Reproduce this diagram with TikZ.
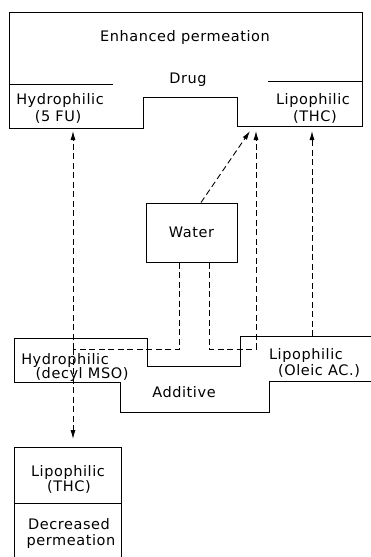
\documentclass[tikz,border=0pt]{standalone}
\usepackage{fontspec}
\setmainfont{DejaVu Sans}[LetterSpace=4]
\usepackage{tikz}
\usetikzlibrary{arrows.meta}

\begin{document}
\begin{tikzpicture}[x=1pt,y=-1pt,
	  frame/.style={line width=1pt},
	  flow/.style={line width=0.9pt,dash pattern=on 6pt off 3.5pt},
	  flowarrow/.style={flow,-{Latex[length=9pt,width=5pt]}},
	  lbl/.style={font=\fontsize{14.5}{16}\selectfont,inner sep=0pt,anchor=base}]

	  \useasboundingbox (0,0) rectangle (371,557);

	  \draw[frame] (9,12) -- (9,128) -- (143,128) -- (143,97) -- (237,97) -- (237,126) -- (362,126) -- (362,12) -- cycle;
	  \draw[frame] (9,84) -- (113,84);
	  \draw[frame] (268,81) -- (362,81);

	  \node[lbl] (enhanced) at (185,41) {Enhanced permeation};
	  \node[lbl] (drug) at (188,83) {Drug};
	  \node[lbl] (hydrodrug) at (60,104) {Hydrophilic};
	  \node[lbl] (hydrodrugname) at (58,121) {(5 FU)};
	  \node[lbl] (lipodrug) at (313,104) {Lipophilic};
	  \node[lbl] (lipodrugname) at (315,121) {(THC)};

	  \node[draw,frame,minimum width=91pt,minimum height=59pt,inner sep=0pt,font=\fontsize{14.5}{16}\selectfont] (water) at (191.5,232.5) {Water};

	  \draw[frame] (371,336) -- (240,336) -- (240,366) -- (147,366) -- (147,338) -- (14,338) -- (14,382) -- (120,382) -- (120,412) -- (269,412) -- (269,381) -- (371,381);

	  \node[lbl] (hydroadd) at (65,364) {Hydrophilic};
	  \node[lbl] (hydroaddname) at (82,378) {(decyl MSO)};
	  \node[lbl] (lipoadd) at (306,359) {Lipophilic};
	  \node[lbl] (lipoaddname) at (319,375) {(Oleic AC.)};
	  \node[lbl] (additive) at (184,397) {Additive};

	  \draw[frame] (14,557) -- (14,447) -- (121,447) -- (121,557);
	  \draw[frame] (14,503) -- (121,503);

	  \node[lbl] (lipodecr) at (68,476) {Lipophilic};
	  \node[lbl] (lipodecrname) at (69,491) {(THC)};
	  \node[lbl] (decreased) at (69,529) {Decreased};
	  \node[lbl] (permeation) at (71,545) {permeation};

	  \coordinate (waterleft) at ([xshift=-12pt]water.south);
	  \coordinate (waterright) at ([xshift=17.5pt]water.south);
	  \coordinate (watertop) at ([xshift=9.5pt]water.north);
	  \coordinate (hydrosplit) at (73,349);
	  \coordinate (liposplit) at (256,349);
	  \coordinate (hydrotip) at (73,131);
	  \coordinate (decrtip) at (73,439);
	  \coordinate (watertip) at (250,131);
	  \coordinate (liposplittip) at (256,131);
	  \coordinate (lipoaddtop) at (312,336);
	  \coordinate (lipoaddtip) at (312,131);

	  \draw[flow] (waterleft) |- (hydrosplit);
	  \draw[flowarrow] (hydrosplit) -- (hydrotip);
	  \draw[flowarrow] (hydrosplit) -- (decrtip);
	  \draw[flow] (waterright) |- (liposplit);
	  \draw[flowarrow] (liposplit) -- (liposplittip);
	  \draw[flowarrow] (watertop) -- (watertip);
	  \draw[flowarrow] (lipoaddtop) -- (lipoaddtip);
	\end{tikzpicture}
\end{document}
